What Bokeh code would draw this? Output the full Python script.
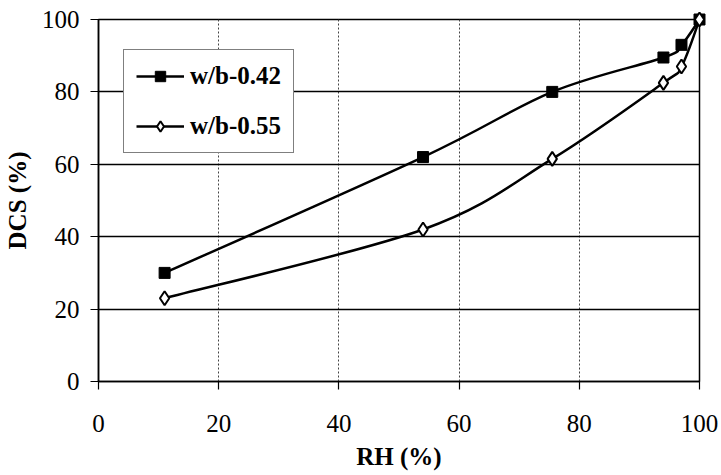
from bokeh.plotting import figure
from bokeh.models import Range1d, FixedTicker, Legend, LegendItem, ColumnDataSource
from bokeh.embed import file_html
from bokeh.resources import INLINE

# Data
rh = [11, 54, 75.5, 94, 97, 100]
dcs_042 = [30, 62, 80, 89.5, 93, 100]
dcs_055 = [23, 42, 61.5, 82.5, 87, 100]
series_names = ["w/b-0.42", "w/b-0.55"]
ticks = [0, 20, 40, 60, 80, 100]

FONT = "Liberation Serif"


def smooth_segments(xs, ys):
    """Catmull-Rom style cubic Bezier control points (Excel-like smoothing)."""
    n = len(xs)
    out = dict(x0=[], y0=[], x1=[], y1=[], cx0=[], cy0=[], cx1=[], cy1=[])
    for i in range(n - 1):
        xm, ym = (xs[i - 1], ys[i - 1]) if i > 0 else (xs[i], ys[i])
        xp, yp = (xs[i + 2], ys[i + 2]) if i + 2 < n else (xs[i + 1], ys[i + 1])
        out["x0"].append(xs[i]); out["y0"].append(ys[i])
        out["x1"].append(xs[i + 1]); out["y1"].append(ys[i + 1])
        out["cx0"].append(xs[i] + (xs[i + 1] - xm) / 6)
        out["cy0"].append(ys[i] + (ys[i + 1] - ym) / 6)
        out["cx1"].append(xs[i + 1] - (xp - xs[i]) / 6)
        out["cy1"].append(ys[i + 1] - (yp - ys[i]) / 6)
    return ColumnDataSource(out)


p = figure(width=721, height=475, output_backend="svg", toolbar_location=None,
           x_range=Range1d(0, 100), y_range=Range1d(0, 100),
           min_border_left=96, min_border_right=22, min_border_top=19, min_border_bottom=94)
p.background_fill_color = "white"
p.border_fill_color = "white"
p.outline_line_color = "black"
p.outline_line_width = 1.5

# grids
p.xgrid.ticker = FixedTicker(ticks=ticks)
p.ygrid.ticker = FixedTicker(ticks=ticks)
p.xgrid.grid_line_color = "#444444"
p.xgrid.grid_line_dash = "2 2"
p.xgrid.grid_line_width = 1
p.ygrid.grid_line_color = "black"
p.ygrid.grid_line_width = 1.5

# axes
for ax in (p.xaxis[0], p.yaxis[0]):
    ax.ticker = FixedTicker(ticks=ticks)
    ax.minor_tick_line_color = None
    ax.major_tick_in = 0
    ax.major_tick_out = 8
    ax.major_tick_line_color = "black"
    ax.major_tick_line_width = 1.2
    ax.axis_line_color = "black"
    ax.axis_line_width = 1.5
    ax.major_label_text_font = FONT
    ax.major_label_text_font_size = "25px"
    ax.major_label_text_color = "black"
    ax.axis_label_text_font = FONT
    ax.axis_label_text_font_size = "25px"
    ax.axis_label_text_font_style = "bold"
    ax.axis_label_text_color = "black"

p.xaxis.axis_label = "RH (%)"
p.yaxis.axis_label = "DCS (%)"
p.xaxis.major_label_standoff = 25
p.xaxis.axis_label_standoff = 8
p.yaxis.major_label_standoff = 11
p.yaxis.axis_label_standoff = 8

# series
s1 = smooth_segments(rh, dcs_042)
s2 = smooth_segments(rh, dcs_055)
p.bezier(x0="x0", y0="y0", x1="x1", y1="y1", cx0="cx0", cy0="cy0", cx1="cx1", cy1="cy1",
         source=s1, line_color="black", line_width=2.5)
p.bezier(x0="x0", y0="y0", x1="x1", y1="y1", cx0="cx0", cy0="cy0", cx1="cx1", cy1="cy1",
         source=s2, line_color="black", line_width=2.5)

m1 = p.scatter(rh, dcs_042, marker="square", size=11, fill_color="black", line_color="black",
               level="overlay")
m2 = p.scatter(rh, dcs_055, marker="diamond", size=14, fill_color="white", line_color="black",
               line_width=2, level="overlay")

# legend proxies (line + marker)
l1 = p.line([rh[0]], [dcs_042[0]], line_color="black", line_width=2.5)
l2 = p.line([rh[0]], [dcs_055[0]], line_color="black", line_width=2.5)

legend = Legend(items=[LegendItem(label=series_names[0], renderers=[l1, m1]),
                       LegendItem(label=series_names[1], renderers=[l2, m2])],
                location=(25, 228))
legend.label_text_font = FONT
legend.label_text_font_size = "25px"
legend.label_text_font_style = "bold"
legend.label_text_color = "black"
legend.border_line_color = "black"
legend.border_line_width = 1.5
legend.background_fill_alpha = 1
legend.padding = 12
legend.spacing = 22
legend.glyph_width = 48
legend.glyph_height = 26
legend.label_height = 26
legend.label_standoff = 6
legend.margin = 0
p.add_layout(legend)

open("out.html", "w").write(file_html(p, INLINE))
